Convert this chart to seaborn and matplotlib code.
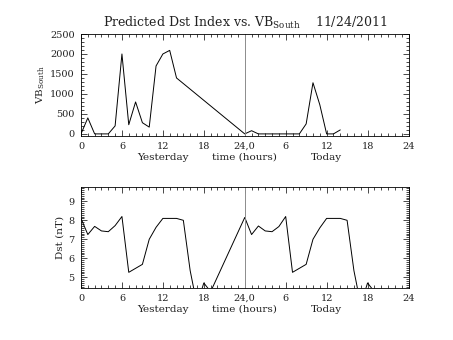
import matplotlib
matplotlib.use("Agg")
import matplotlib.pyplot as plt
import matplotlib.transforms as mtransforms
from matplotlib.ticker import FixedLocator, MultipleLocator
import seaborn as sns
import pandas as pd

# Hourly VB_South values: yesterday 0-14 h, today 24-38 h (hours counted from yesterday 00:00)
vb_hours = [0, 1, 2, 3, 4, 5, 6, 7, 8, 9, 10, 11, 12, 13, 14,
            24, 25, 26, 27, 28, 29, 30, 31, 32, 33, 34, 35, 36, 37, 38]
vb_values = [0, 400, 0, 0, 0, 200, 2000, 230, 800, 280, 170, 1700, 2000, 2090, 1400,
             0, 80, 0, 0, 0, 0, 0, 0, 0, 250, 1280, 730, 0, 0, 100]

# Predicted Dst (nT), hourly
dst_hours = [0, 1, 2, 3, 4, 5, 6, 7, 8, 9, 10, 11, 12, 13, 14, 15, 16, 17, 18, 19,
             24, 25, 26, 27, 28, 29, 30, 31, 32, 33, 34, 35, 36, 37, 38, 39, 40, 41, 42, 43]
dst_values = [8.1, 7.25, 7.68, 7.44, 7.4, 7.72, 8.2, 5.26, 5.47, 5.68,
              7.0, 7.63, 8.1, 8.1, 8.1, 8.0, 5.35, 3.55, 4.7, 4.24,
              8.15, 7.25, 7.7, 7.44, 7.4, 7.67, 8.2, 5.26, 5.47, 5.68,
              7.0, 7.6, 8.1, 8.1, 8.1, 8.0, 5.35, 3.55, 4.7, 4.24]

tick_hours = [0, 6, 12, 18, 24, 30, 36, 42, 48]
tick_labels = ["0", "6", "12", "18", "24,0", "6", "12", "18", "24"]
day_labels = ["Yesterday", "time (hours)", "Today"]
day_positions = [12, 24, 36]
title_text = r"Predicted Dst Index vs. VB$_{\rm South}$    11/24/2011"

sns.set_style("ticks")
plt.rcParams["font.family"] = ["DejaVu Serif"]
plt.rcParams["mathtext.fontset"] = "dejavuserif"
plt.rcParams["axes.linewidth"] = 0.6

fig = plt.figure(figsize=(4.53, 3.40), dpi=100)
ax1 = fig.add_axes([81 / 453, 1 - 135.5 / 340, 327.5 / 453, 101.5 / 340])
ax2 = fig.add_axes([81 / 453, 1 - 287.7 / 340, 327.5 / 453, 101 / 340])

vb_df = pd.DataFrame({"hour": vb_hours, "vb": vb_values})
dst_df = pd.DataFrame({"hour": dst_hours, "dst": dst_values})

sns.lineplot(data=vb_df, x="hour", y="vb", ax=ax1, color="black",
             linewidth=0.7, estimator=None, sort=False)
sns.lineplot(data=dst_df, x="hour", y="dst", ax=ax2, color="black",
             linewidth=0.7, estimator=None, sort=False)

text_color = "#222222"
for ax in (ax1, ax2):
    ax.axvline(24, color="#8c8c8c", linewidth=0.7)
    ax.set_xlim(0, 48)
    ax.xaxis.set_major_locator(FixedLocator(tick_hours))
    ax.set_xticklabels(tick_labels)
    ax.xaxis.set_minor_locator(MultipleLocator(1))
    ax.tick_params(which="both", direction="in", top=True, right=True,
                   labelsize=7, colors="black", labelcolor=text_color, width=0.5)
    ax.tick_params(which="major", length=4, pad=4.5)
    ax.tick_params(which="minor", length=2)
    ax.set_xlabel("")
    for s in ax.spines.values():
        s.set_color("black")
    trans = mtransforms.blended_transform_factory(ax.transData, ax.transAxes)
    for lab, pos in zip(day_labels, day_positions):
        ax.text(pos, -0.215, lab, transform=trans, ha="center", va="center",
                fontsize=7.5, color=text_color)

ax1.set_ylim(-40, 2500)
ax1.yaxis.set_major_locator(MultipleLocator(500))
ax1.yaxis.set_minor_locator(MultipleLocator(100))
ax1.set_ylabel(r"VB$_{\rm South}$", fontsize=7.5, labelpad=2, color=text_color)
ax1.set_title(title_text, fontsize=9, pad=5, color=text_color)

ax2.set_ylim(4.45, 9.77)
ax2.yaxis.set_major_locator(MultipleLocator(1))
ax2.yaxis.set_minor_locator(MultipleLocator(0.1))
ax2.set_ylabel("Dst (nT)", fontsize=7.5, labelpad=3, color=text_color)

fig.savefig("out.png", dpi=100, facecolor="white")
